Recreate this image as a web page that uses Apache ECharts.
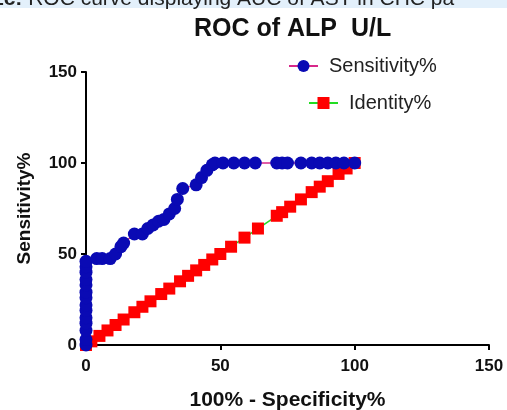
<!DOCTYPE html>
<html>
<head>
<meta charset="utf-8">
<script src="https://cdn.jsdelivr.net/npm/echarts@6/dist/echarts.min.js"></script>
<style>
  html, body { margin: 0; padding: 0; background: #fff; }
  #chart { width: 507px; height: 410px; }
</style>
</head>
<body>
<div id="chart"></div>
<script>
// ROC curve points
var sensX = [0, 0, 0, 0, 0, 0, 0, 0, 0, 0, 0, 0, 0, 0,
  4, 6, 9, 11, 13, 14, 18, 21, 23, 25, 27, 29, 31, 33, 34, 36, 41, 43, 45, 47,
  48, 51, 55, 59, 63, 71, 73, 75, 80, 84, 87, 90, 93, 96, 100];
var sensY = [0, 3, 8, 12, 15, 19, 22, 26, 29, 33, 36, 40, 43, 46,
  47.5, 47.5, 47.5, 50, 54, 56, 61, 61, 64, 66, 68, 69, 72, 75, 80, 86, 88, 92, 96, 99,
  100, 100, 100, 100, 100, 100, 100, 100, 100, 100, 100, 100, 100, 100, 100];
var identX = [0, 2, 5, 8, 11, 14, 18, 21, 24, 28, 31, 35, 38, 41, 44, 47, 50, 54, 59, 64,
  71, 73, 76, 80, 84, 87, 90, 94, 97, 100];
var identY = identX.slice();

function pairs(xs, ys) {
  return xs.map(function (x, i) { return [x, ys[i]]; });
}

var myChart = echarts.init(document.getElementById('chart'));

var FONT = 'Arial, Liberation Sans, sans-serif';
var tickLabel = { color: '#111', fontFamily: FONT, fontSize: 17, fontWeight: 'bold' };
var axisName = { color: '#111', fontFamily: FONT, fontSize: 19, fontWeight: 'bold' };
var legendText = { color: '#222', fontFamily: FONT, fontSize: 20, padding: [0, 0, 0, 6] };

var option = {
  backgroundColor: '#fff',
  animation: false,
  title: {
    text: 'ROC of ALP  U/L',
    left: 189,
    top: 12,
    textStyle: { color: '#111', fontFamily: FONT, fontSize: 25, fontWeight: 'bold' }
  },
  graphic: [
    {
      type: 'rect',
      shape: { x: 0, y: 0, width: 507, height: 8 },
      style: { fill: '#e3f0fb' },
      silent: true
    },
    {
      type: 'text',
      left: -8,
      top: -11,
      style: {
        text: '{b|1c:} ROC curve displaying AUC of AST in CHC pa',
        font: '21px ' + FONT,
        fill: '#222',
        rich: { b: { fontWeight: 'bold', fontSize: 21, fontFamily: FONT } }
      },
      silent: true
    }
  ],
  legend: [
    {
      data: ['Sensitivity%'],
      left: 283,
      top: 51,
      itemWidth: 29,
      itemHeight: 15,
      textStyle: legendText
    },
    {
      data: ['Identity%'],
      left: 303,
      top: 88,
      itemWidth: 29,
      itemHeight: 15,
      textStyle: legendText
    }
  ],
  grid: { left: 86, right: 18, top: 72, bottom: 65, outerBoundsMode: 'none' },
  xAxis: {
    type: 'value',
    min: 0,
    max: 150,
    interval: 50,
    name: '100% - Specificity%',
    nameLocation: 'middle',
    nameGap: 45,
    nameTextStyle: Object.assign({}, axisName, { fontSize: 21 }),
    axisLine: { lineStyle: { color: '#000', width: 2 } },
    axisTick: { lineStyle: { color: '#000', width: 2 }, length: 5 },
    axisLabel: Object.assign({ margin: 13 }, tickLabel),
    splitLine: { show: false }
  },
  yAxis: {
    type: 'value',
    min: 0,
    max: 150,
    interval: 50,
    name: 'Sensitivity%',
    nameLocation: 'middle',
    nameGap: 52,
    nameTextStyle: axisName,
    axisLine: { show: true, lineStyle: { color: '#000', width: 2 } },
    axisTick: { show: true, lineStyle: { color: '#000', width: 2 }, length: 5 },
    axisLabel: Object.assign({ margin: 9 }, tickLabel),
    splitLine: { show: false }
  },
  series: [
    {
      name: 'Identity%',
      type: 'line',
      data: pairs(identX, identY),
      symbol: 'rect',
      symbolSize: 12,
      itemStyle: { color: '#ff0000' },
      lineStyle: { color: '#22dd22', width: 1.5 },
      z: 2
    },
    {
      name: 'Sensitivity%',
      type: 'line',
      data: pairs(sensX, sensY),
      symbol: 'circle',
      symbolSize: 13,
      itemStyle: { color: '#0a0ab4' },
      lineStyle: { color: '#d8288a', width: 1.5 },
      z: 3
    }
  ]
};
myChart.setOption(option);
</script>
</body>
</html>
